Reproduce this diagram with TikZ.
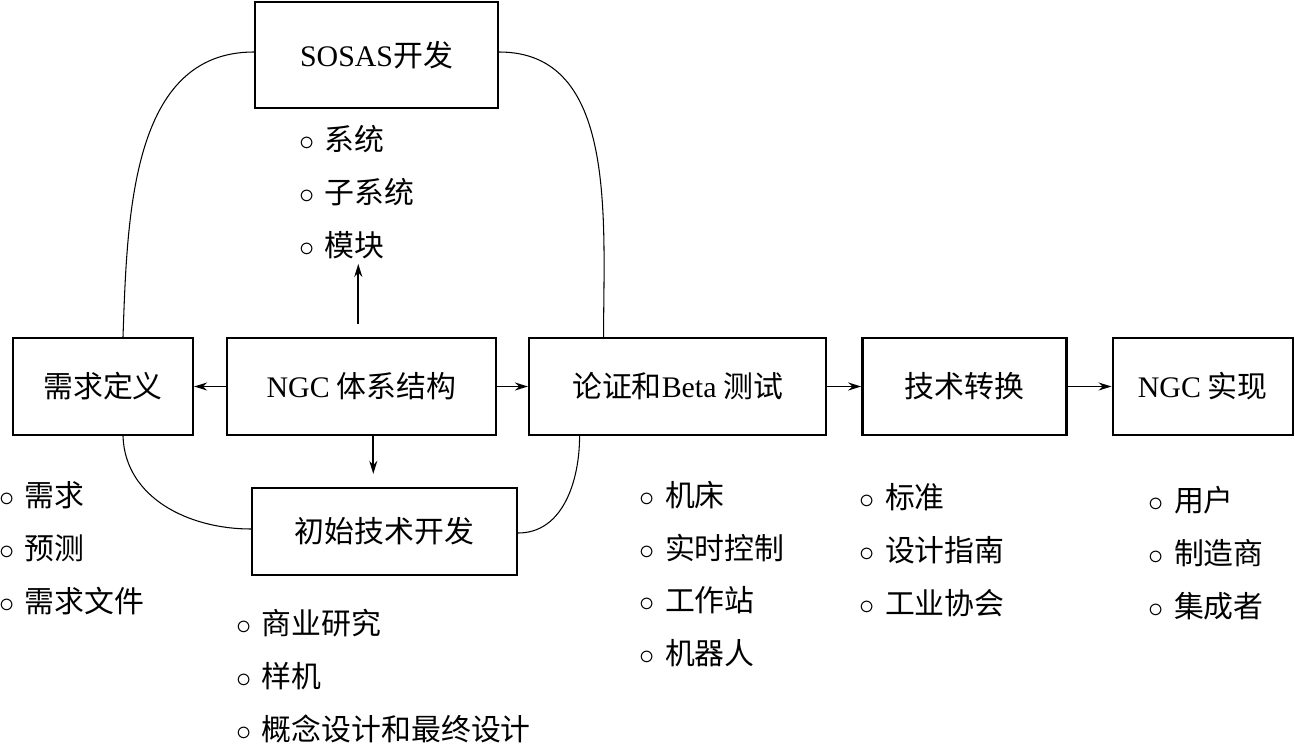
\documentclass[tikz,border=0pt]{standalone}
\usepackage{fontspec}
\setmainfont{Noto Sans CJK SC}
\newfontfamily\latin{Liberation Serif}
\usetikzlibrary{arrows.meta,positioning}

\newcommand{\itm}{$\circ$\hspace{0.35em}}

\begin{document}
\begin{tikzpicture}[
  font=\fontsize{17}{30}\selectfont,
  box/.style={draw, line width=1.3pt, minimum height=1.94cm, align=center, inner sep=0pt},
  arr/.style={-{Stealth[length=2.6mm,width=1.6mm]}, line width=1pt},
  link/.style={line width=0.6pt},
  lst/.style={align=left, inner sep=0pt, anchor=west}
]
\useasboundingbox (0,0) rectangle (25.9,-14.9);
\node[box, minimum width=3.6cm] (req) at (2.06,-7.73) {需求定义};
\node[box, minimum width=5.38cm, right=0.63cm of req] (arch) {{\latin NGC} 体系结构};
\node[box, minimum width=5.94cm, right=0.62cm of arch] (demo) {论证和{\latin Beta} 测试};
\node[box, minimum width=4.08cm, right=0.68cm of demo] (trans) {技术转换};
\node[box, minimum width=3.6cm, right=0.88cm of trans] (impl) {{\latin NGC} 实现};
\node[box, minimum width=4.86cm, minimum height=2.12cm] (sosas) at (7.53,-1.1) {{\latin SOSAS}开发};
\node[box, minimum width=5.3cm, minimum height=1.74cm] (init) at (7.69,-10.63) {初始技术开发};
% lists
\node[lst] (sosaslist) at (5.98,-3.84) {\itm 系统\\ \itm 子系统\\ \itm 模块};
\node[lst] (reqlist) at (-0.02,-10.96) {\itm 需求\\ \itm 预测\\ \itm 需求文件};
\node[lst] (initlist) at (4.72,-13.52) {\itm 商业研究\\ \itm 样机\\ \itm 概念设计和最终设计};
\node[lst] (demolist) at (12.78,-11.48) {\itm 机床\\ \itm 实时控制\\ \itm 工作站\\ \itm 机器人};
\node[lst] (translist) at (17.18,-11.0) {\itm 标准\\ \itm 设计指南\\ \itm 工业协会};
\node[lst] (impllist) at (22.96,-11.06) {\itm 用户\\ \itm 制造商\\ \itm 集成者};
% arrows
\draw[arr] (arch) -- (req);
\draw[arr] (arch) -- (demo);
\draw[arr] (demo) -- (trans);
\draw[arr, line width=0.6pt] (trans) -- (impl);
\draw[arr, shorten <=0.26cm, shorten >=0.1cm] ([xshift=-0.06cm]arch.north) -- ([xshift=-0.06cm]arch.north |- sosaslist.south);
\draw[arr, shorten >=0.26cm] ([xshift=0.24cm]arch.south) -- ([xshift=0.24cm]arch.south |- init.north);
% links
\draw[link] ([xshift=0.4cm]req.north) to[out=88,in=180] ([yshift=0.06cm]sosas.west);
\draw[link] ([yshift=0.06cm]sosas.east) to[out=0,in=90] ([xshift=-1.48cm]demo.north);
\draw[link] ([xshift=0.4cm]req.south) to[out=-88,in=180] ([yshift=0.05cm]init.west);
\draw[link] ([xshift=-1.96cm]demo.south) to[out=-90,in=0] ([yshift=-0.03cm]init.east);
\end{tikzpicture}
\end{document}
